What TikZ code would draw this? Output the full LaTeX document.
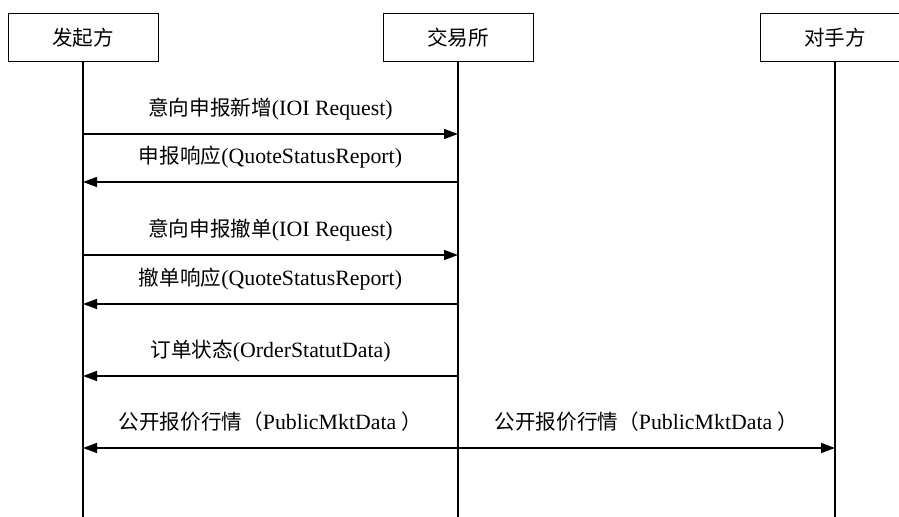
\documentclass[tikz,border=0pt]{standalone}
\usepackage{fontspec}
\setmainfont[Scale=1.06]{Liberation Serif}
\newfontfamily\cjk{Noto Sans CJK SC}
\usetikzlibrary{arrows.meta}
\usetikzlibrary{positioning}

\begin{document}
\begin{tikzpicture}[x=0.5pt,y=-0.5pt,
    party/.style={draw,line width=0.5pt,fill=white,minimum width=75pt,minimum height=24pt,inner sep=0pt,
      font=\fontsize{10.3}{12}\selectfont},
    life/.style={line width=1.1pt},
    msg/.style={line width=0.65pt,-{Triangle[length=7pt,width=5pt]}},
    lbl/.style={anchor=base,yshift=9pt,inner sep=0pt,font=\fontsize{10.3}{12}\selectfont}]
      \clip (0,0) rectangle (899,517);
      \useasboundingbox (0,0) rectangle (899,517);
      % participants
      \node[party] (fqf) at (83,38) {\cjk 发起方};
      \node[party] (jys) at (458,38) {\cjk 交易所};
      \node[party] (dsf) at (835,38) {\cjk 对手方};
      \coordinate (fqf end) at (83,517);
      \coordinate (jys end) at (458,517);
      \coordinate (dsf end) at (835,517);
      \draw[life] (fqf.south) -- (fqf end);
      \draw[life] (jys.south) -- (jys end);
      \draw[life] (dsf.south) -- (dsf end);
      % message points
      \foreach \y/\n in {134/1,182/2,255/3,304/4,376/5,448/6} {
        \coordinate (fqf\n) at (83,\y);
        \coordinate (jys\n) at (458,\y);
      }
      \coordinate (dsf6) at (835,448);
      % messages
      \draw[msg] (fqf1) -- node[lbl] {{\cjk 意向申报新增}(IOI Request)} (jys1);
      \draw[msg] (jys2) -- node[lbl] {{\cjk 申报响应}(QuoteStatusReport)} (fqf2);
      \draw[msg] (fqf3) -- node[lbl] {{\cjk 意向申报撤单}(IOI Request)} (jys3);
      \draw[msg] (jys4) -- node[lbl] {{\cjk 撤单响应}(QuoteStatusReport)} (fqf4);
      \draw[msg] (jys5) -- node[lbl] {{\cjk 订单状态}(OrderStatutData)} (fqf5);
      \draw[msg] (jys6) -- node[lbl] {{\cjk 公开报价行情（}PublicMktData {\cjk ）}} (fqf6);
      \draw[msg] (jys6) -- node[lbl] {{\cjk 公开报价行情（}PublicMktData {\cjk ）}} (dsf6);
    \end{tikzpicture}
\end{document}
